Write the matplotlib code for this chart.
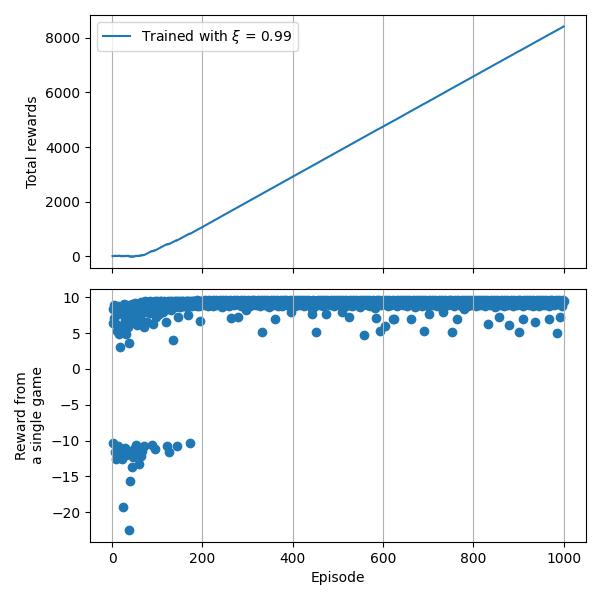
import numpy as np
import matplotlib
matplotlib.use("Agg")
import matplotlib.pyplot as plt

# Reward from each single game (episodes 1..1000)
rewards_000_199 = [
    8.3, 6.4, -10.4, 8.9, 7.1, -11.6, 8.6, 6.2, -12.5, 5.3, -11.3, 8.8, 7.6, -10.8, 8.1, 4.9, 3.1, -12.2, -11.9, 6.0,
    5.5, -12.6, 8.4, 7.9, -19.3, 9.0, 8.2, -11.0, 6.8, 4.8, -12.0, 8.9, 7.4, -11.5, 8.6, 5.8, -22.5, 3.6, -15.6, 8.0,
    -11.9, 8.7, 6.6, -13.7, 9.1, -12.3, 7.8, 8.5, -11.2, 6.9, 9.2, 7.3, 8.8, -10.6, 6.1, -11.6, 8.4, 9.0, -13.2, 7.7,
    8.9, 7.5, -12.1, 9.3, 8.1, 6.7, -11.4, 8.8, 9.2, -10.8, 5.9, 8.6, 9.4, 7.9, 8.3, 9.1, 6.5, 8.9, 9.3, 8.0,
    9.2, 8.7, 7.8, 9.4, 8.5, 9.0, 8.2, 9.3, -10.6, 8.8, 6.2, 9.1, 8.6, -11.2, 9.5, 8.4, 7.3, 9.2, 8.9, 9.4,
    8.6, 9.3, 9.0, 7.6, 9.4, 8.8, 9.2, 8.1, 9.5, 8.9, 9.1, 7.9, 9.3, 8.7, 9.4, 9.0, 8.5, 9.2, 6.6, 9.3,
    8.9, -10.7, 9.4, 9.1, 8.4, -11.6, 9.3, 8.8, 9.5, 9.0, 8.2, 9.4, 9.2, 8.7, 4.0, 9.3, 9.1, 8.9, 9.5, 8.6,
    9.2, 9.4, -10.7, 9.0, 8.8, 7.3, 9.5, 9.1, 9.3, 8.6, 9.4, 9.2, 8.9, 9.5, 9.0, 9.3, 8.7, 9.4, 9.1, 9.2,
    9.3, 8.9, 9.5, 9.1, 9.4, 8.6, 9.2, 7.5, 9.5, 9.3, 8.8, -10.4, 9.4, 9.1, 9.2, 8.7, 9.5, 9.3, 9.0, 9.4,
    9.2, 9.5, 8.9, 9.3, 9.1, 9.4, 8.8, 9.6, 9.0, 9.3, 9.5, 8.7, 9.2, 6.7, 9.4, 9.1, 9.5, 9.3, 8.9, 9.2,
]
rewards_200_599 = [
    9.3, 9.5, 9.1, 9.4, 8.9, 9.6, 9.2, 9.3, 9.0, 9.5, 9.4, 8.7, 9.3, 9.6, 9.1, 9.2, 9.5, 9.0, 9.4, 9.3,
    9.1, 9.4, 9.6, 8.8, 9.3, 9.2, 9.5, 9.0, 9.4, 9.3, 9.6, 9.1, 8.9, 9.5, 9.2, 9.4, 9.3, 9.6, 9.0, 9.2,
    9.5, 9.3, 8.6, 9.4, 9.1, 9.6, 9.2, 9.3, 9.5, 8.9, 9.4, 9.0, 9.6, 9.3, 9.1, 9.5, 9.2, 8.8, 9.4, 9.3,
    9.2, 9.6, 7.1, 9.3, 9.5, 9.0, 9.4, 9.1, 9.6, 9.2, 8.9, 9.5, 9.3, 9.4, 9.0, 9.6, 9.2, 7.3, 9.5, 9.3,
    9.4, 9.1, 9.5, 9.3, 8.8, 9.6, 9.2, 9.4, 9.0, 9.5, 9.3, 9.1, 9.6, 9.4, 8.9, 9.2, 8.2, 9.5, 9.3, 9.4,
    9.0, 9.6, 9.3, 9.2, 9.5, 8.7, 9.4, 9.1, 9.6, 9.3, 9.2, 9.5, 9.0, 9.4, 9.6, 9.1, 9.3, 8.9, 9.5, 9.2,
    9.4, 9.3, 9.6, 9.0, 9.5, 9.2, 8.8, 9.4, 9.6, 9.1, 5.1, 9.3, 9.5, 9.2, 9.4, 9.0, 9.6, 9.3, 8.9, 9.5,
    9.2, 9.4, 9.1, 9.6, 9.3, 9.5, 8.6, 9.2, 9.4, 9.0, 9.6, 9.3, 9.1, 9.5, 9.4, 8.9, 9.2, 9.6, 9.3, 9.0,
    6.9, 9.5, 9.2, 9.4, 9.6, 9.1, 9.3, 8.8, 9.5, 9.2, 9.4, 9.0, 9.6, 9.3, 9.1, 9.5, 8.7, 9.4, 9.2, 9.6,
    9.3, 9.0, 9.5, 9.4, 9.1, 9.6, 9.2, 8.9, 9.3, 9.5, 9.4, 9.1, 9.6, 9.0, 9.3, 8.0, 9.5, 9.2, 9.4, 9.6,
    9.1, 9.3, 9.5, 8.8, 9.4, 9.2, 9.6, 9.0, 9.3, 9.5, 9.1, 9.4, 8.9, 9.6, 9.2, 9.3, 9.5, 9.0, 9.4, 9.2,
    9.6, 9.3, 9.1, 9.5, 8.7, 9.4, 9.2, 9.6, 9.0, 9.3, 9.5, 9.1, 9.4, 9.6, 8.9, 9.2, 9.5, 9.3, 9.0, 9.4,
    9.2, 7.7, 8.4, 9.5, 9.3, 9.6, 9.1, 9.4, 8.8, 9.2, 5.1, 9.5, 9.3, 9.0, 9.6, 9.4, 9.1, 9.3, 9.5, 8.9,
    9.4, 9.2, 9.6, 9.0, 9.3, 9.5, 9.1, 8.7, 9.4, 9.6, 9.2, 9.3, 7.7, 9.5, 9.0, 9.4, 9.6, 9.1, 9.3, 9.2,
    9.5, 8.9, 9.3, 9.6, 9.1, 9.4, 9.2, 9.5, 9.0, 9.3, 9.6, 8.8, 9.4, 9.2, 9.5, 9.1, 9.3, 9.6, 9.0, 9.4,
    9.2, 9.5, 9.3, 8.9, 9.6, 9.1, 9.4, 9.2, 9.5, 8.0, 9.3, 9.6, 9.0, 9.4, 9.2, 9.5, 8.7, 9.3, 9.6, 9.1,
    9.4, 9.3, 9.0, 9.5, 7.2, 9.6, 9.2, 9.4, 9.1, 9.3, 8.8, 9.5, 9.6, 9.0, 9.2, 9.4, 9.3, 9.5, 8.9, 9.1,
    9.6, 9.2, 9.4, 9.0, 9.5, 9.3, 9.1, 9.6, 8.6, 9.4, 9.2, 9.5, 9.3, 9.0, 9.6, 9.1, 9.4, 4.7, 9.2, 9.5,
    9.3, 9.0, 9.6, 9.4, 8.9, 9.2, 9.5, 9.3, 9.1, 9.6, 9.4, 8.8, 9.2, 9.5, 9.0, 9.3, 9.6, 9.1, 9.4, 9.2,
    9.5, 9.3, 8.5, 7.1, 9.4, 9.6, 9.0, 9.2, 9.5, 9.1, 9.3, 9.6, 5.3, 9.4, 8.9, 9.2, 9.5, 9.3, 9.0, 9.6,
]
rewards_600_999 = [
    9.2, 9.4, 9.1, 9.5, 6.0, 9.3, 9.6, 9.0, 9.4, 8.8, 9.2, 9.5, 9.3, 9.6, 9.1, 9.4, 8.9, 9.2, 9.5, 9.3,
    7.0, 9.4, 9.6, 9.1, 7.0, 9.3, 9.5, 9.2, 9.0, 9.4, 9.6, 8.7, 9.3, 9.5, 9.1, 9.2, 9.4, 9.6, 9.0, 9.3,
    9.5, 9.1, 9.4, 8.9, 9.6, 9.2, 9.3, 9.5, 9.0, 9.4, 9.6, 9.1, 9.3, 8.8, 9.5, 9.2, 9.4, 9.6, 9.0, 9.3,
    9.4, 9.2, 6.9, 9.5, 9.1, 9.6, 9.3, 9.0, 9.4, 8.6, 9.5, 9.2, 9.6, 9.3, 9.1, 9.4, 8.9, 9.5, 9.2, 9.6,
    9.3, 9.0, 9.5, 9.4, 9.1, 9.6, 8.8, 9.3, 9.2, 9.5, 5.3, 9.4, 9.6, 9.0, 9.3, 9.1, 9.5, 9.2, 8.7, 9.4,
    7.6, 9.6, 9.3, 9.1, 9.5, 9.2, 9.4, 9.0, 9.6, 8.9, 9.3, 9.5, 9.1, 9.4, 9.2, 9.6, 9.0, 9.3, 9.5, 8.8,
    9.4, 9.2, 9.6, 9.1, 9.3, 9.5, 9.0, 9.4, 8.7, 9.6, 9.2, 7.9, 9.3, 9.5, 9.1, 9.4, 9.6, 9.0, 9.2, 9.3,
    9.5, 9.1, 9.4, 8.9, 9.6, 9.3, 9.2, 9.5, 9.0, 9.4, 9.6, 9.1, 5.1, 9.3, 9.5, 9.2, 8.8, 9.4, 9.6, 9.0,
    9.3, 9.5, 7.0, 9.2, 9.4, 9.6, 9.1, 9.3, 8.9, 9.5, 9.2, 9.4, 9.0, 9.6, 9.3, 9.1, 9.5, 8.6, 9.4, 8.4,
    9.2, 9.6, 9.3, 9.0, 9.5, 9.4, 9.1, 8.8, 9.6, 9.3, 9.2, 9.5, 9.4, 9.0, 9.6, 9.1, 9.3, 8.9, 9.5, 9.2,
    9.4, 9.1, 9.6, 9.3, 9.5, 8.7, 9.2, 9.4, 9.0, 9.6, 9.3, 9.5, 9.1, 9.4, 8.9, 9.2, 9.6, 9.3, 9.0, 9.5,
    9.3, 9.4, 9.2, 9.6, 8.8, 9.1, 9.5, 9.3, 9.0, 9.4, 9.6, 9.2, 6.3, 9.5, 9.1, 9.3, 9.4, 8.9, 9.6, 9.2,
    9.5, 9.0, 9.3, 9.4, 9.6, 9.1, 8.6, 9.2, 9.5, 9.3, 9.4, 9.0, 9.6, 9.2, 9.1, 9.5, 7.2, 9.3, 9.4, 8.9,
    9.6, 9.2, 9.4, 9.1, 9.5, 9.3, 9.0, 9.6, 8.8, 9.4, 9.2, 9.5, 9.3, 9.1, 9.6, 9.4, 8.9, 9.2, 6.1, 9.5,
    9.3, 9.4, 9.0, 9.6, 9.2, 9.5, 9.1, 8.7, 9.3, 9.4, 9.6, 9.2, 9.5, 9.0, 9.3, 9.4, 8.9, 9.6, 9.1, 9.5,
    9.2, 5.1, 9.4, 9.6, 9.3, 9.0, 9.5, 9.1, 8.8, 9.4, 7.0, 9.6, 9.2, 9.3, 9.5, 9.1, 9.4, 9.0, 9.6, 9.2,
    9.3, 9.5, 8.9, 9.4, 9.6, 9.1, 9.2, 9.5, 9.3, 9.0, 9.4, 9.6, 8.7, 9.2, 9.5, 9.3, 6.5, 9.4, 9.1, 9.6,
    9.0, 9.3, 9.5, 9.2, 9.4, 8.8, 9.6, 9.1, 9.3, 9.5, 9.2, 9.4, 9.0, 9.6, 9.3, 8.9, 9.5, 9.1, 9.4, 9.2,
    9.6, 9.3, 9.0, 9.5, 9.4, 9.1, 8.7, 6.9, 9.6, 9.2, 9.3, 9.5, 9.0, 9.4, 9.6, 9.1, 9.3, 8.9, 9.5, 9.2,
    9.4, 9.6, 9.1, 9.3, 5.0, 9.5, 9.2, 9.0, 9.4, 9.6, 7.2, 9.3, 9.1, 9.5, 9.4, 8.8, 9.2, 9.6, 9.3, 9.5,
]

legend_label = r"Trained with $\xi$ = 0.99"
x_ticks = [0, 200, 400, 600, 800, 1000]

rewards = np.array(rewards_000_199 + rewards_200_599 + rewards_600_999)
episodes = np.arange(1, len(rewards) + 1)
total = np.cumsum(rewards)

fig, (ax1, ax2) = plt.subplots(2, 1, sharex=True, figsize=(6, 6), dpi=100)
fig.subplots_adjust(left=0.15, right=0.977, top=0.975, bottom=0.097, hspace=0.08)

ax1.plot(episodes, total, color="C0", label=legend_label)
ax1.set_ylabel("Total rewards")
ax1.legend(loc="upper left")
ax1.grid(axis="x")

ax2.scatter(episodes, rewards, color="C0")
ax2.set_ylabel("Reward from\na single game")
ax2.set_xlabel("Episode")
ax2.set_xticks(x_ticks)
ax2.grid(axis="x")

fig.savefig("out.png", dpi=100)
